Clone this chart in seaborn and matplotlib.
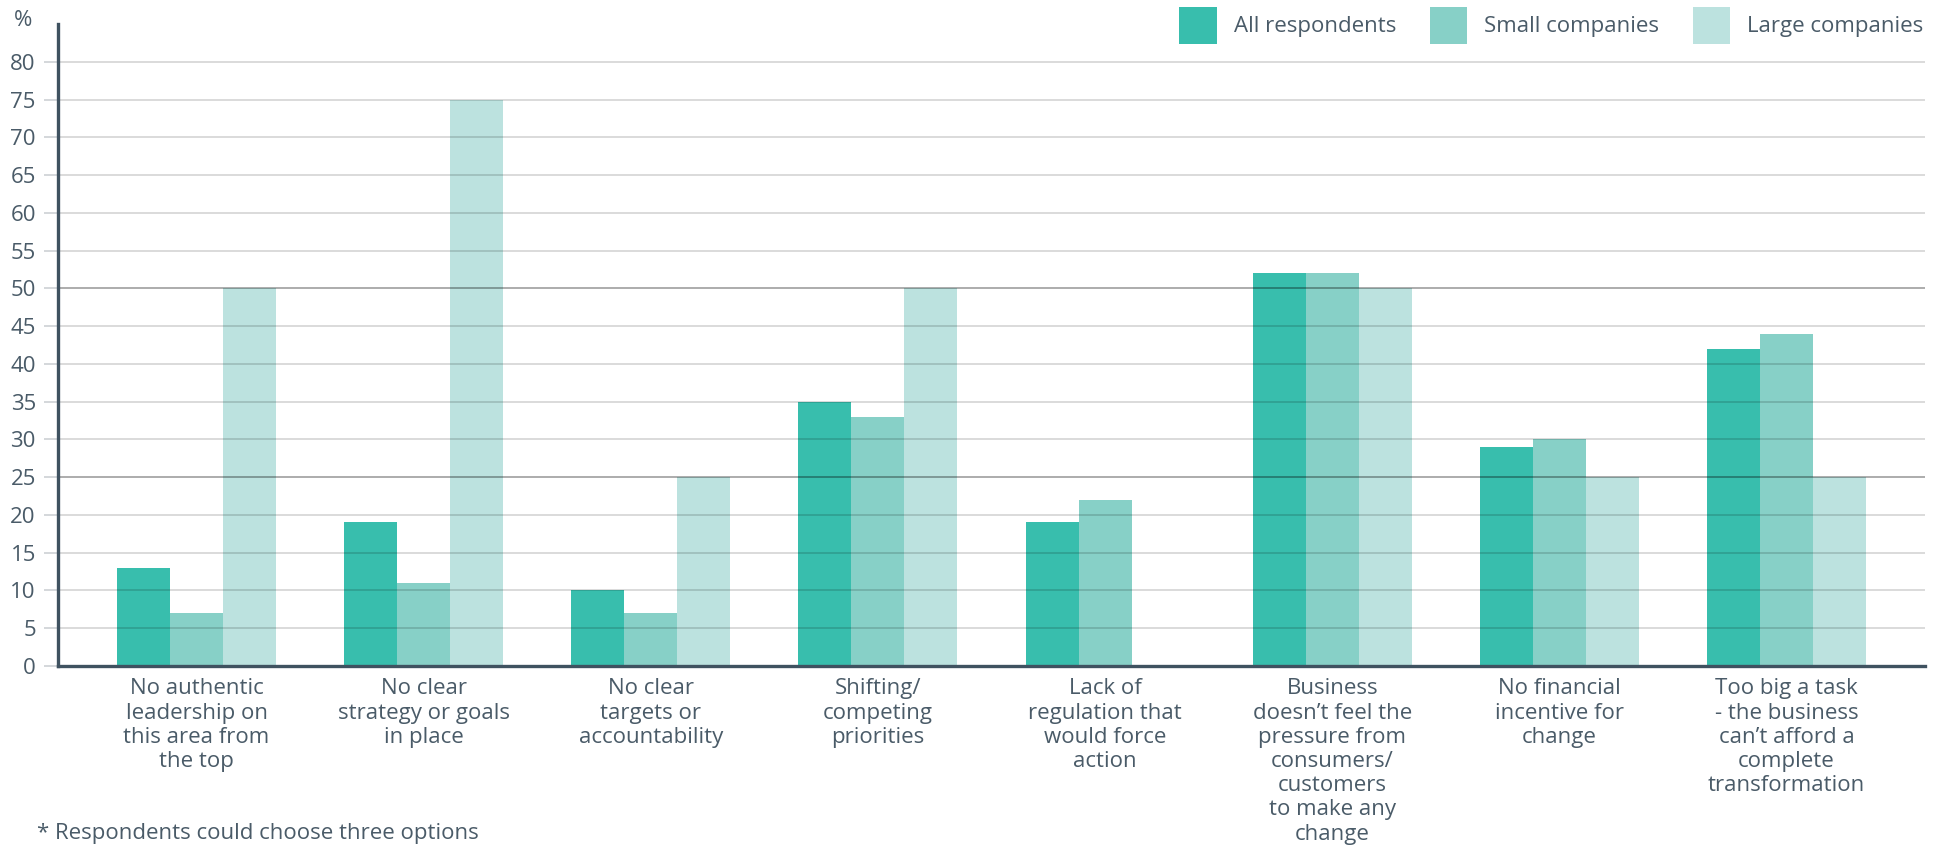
import matplotlib
matplotlib.use("Agg")
import matplotlib.pyplot as plt
import seaborn as sns
import pandas as pd

# Barriers to change, share of respondents (%)
categories = [
    "No authentic\nleadership on\nthis area from\nthe top",
    "No clear\nstrategy or goals\nin place",
    "No clear\ntargets or\naccountability",
    "Shifting/\ncompeting\npriorities",
    "Lack of\nregulation that\nwould force\naction",
    "Business\ndoesn’t feel the\npressure from\nconsumers/\ncustomers\nto make any\nchange",
    "No financial\nincentive for\nchange",
    "Too big a task\n- the business\ncan’t afford a\ncomplete\ntransformation",
]
series_names = ["All respondents", "Small companies", "Large companies"]
all_respondents = [13, 19, 10, 35, 19, 52, 29, 42]
small_companies = [7, 11, 7, 33, 22, 52, 30, 44]
large_companies = [50, 75, 25, 50, 0, 50, 25, 25]
y_ticks = list(range(0, 85, 5))
footnote = "* Respondents could choose three options"

palette = ["#38bead", "#87d0c7", "#bce2df"]
text_color = "#4a5b68"
spine_color = "#3f5260"
fs = 16

df = pd.DataFrame({
    "category": categories * 3,
    "group": [series_names[0]] * 8 + [series_names[1]] * 8 + [series_names[2]] * 8,
    "value": all_respondents + small_companies + large_companies,
})

sns.set_theme(style="white")
plt.rcParams["font.family"] = ["Open Sans", "DejaVu Sans"]
plt.rcParams["text.color"] = text_color

fig = plt.figure(figsize=(19.41, 8.47), dpi=100)
ax = fig.add_axes([0.0299, 0.2137, 0.9619, 0.758])

sns.barplot(
    data=df, x="category", y="value", hue="group",
    hue_order=series_names, order=categories, palette=palette,
    width=0.7, gap=0, saturation=1, linewidth=0, ax=ax, zorder=2,
)

ax.set_xlim(-0.61, 7.61)
ax.set_ylim(0, 85)
ax.set_yticks(y_ticks)
ax.set_yticklabels([str(t) for t in y_ticks])
ax.set_xlabel("")
ax.set_ylabel("")

# Horizontal grid lines drawn over the bars; 25 and 50 emphasised
for t in y_ticks[1:]:
    strong = t in (25, 50)
    ax.axhline(t, color="black", alpha=0.38 if strong else 0.17,
               linewidth=1.2, zorder=3)

for side in ("top", "right"):
    ax.spines[side].set_visible(False)
for side in ("left", "bottom"):
    ax.spines[side].set_color(spine_color)
    ax.spines[side].set_linewidth(2.4)
    ax.spines[side].set_zorder(4)

ax.tick_params(axis="y", length=10, width=1.1, color="#c9cdd1", pad=6,
               labelsize=fs, labelcolor=text_color, left=True)
ax.tick_params(axis="x", length=0, pad=9, labelsize=fs, labelcolor=text_color)
for lbl in ax.get_xticklabels():
    lbl.set_linespacing(1.2)
    lbl.set_va("top")

ax.text(-0.014, 1.005, "%", transform=ax.transAxes, ha="right", va="center",
        fontsize=fs, color=text_color)

sns.move_legend(
    ax, "upper right", bbox_to_anchor=(0.991, 0.992),
    bbox_transform=fig.transFigure, ncol=3, frameon=False, title=None,
    fontsize=fs, handlelength=1.68, handleheight=2.21, handletextpad=0.78,
    columnspacing=1.5, borderaxespad=0, borderpad=0,
)
for txt in ax.get_legend().get_texts():
    txt.set_color(text_color)

fig.text(0.019, 0.004, footnote, ha="left", va="bottom",
         fontsize=fs, color=text_color)

fig.savefig("out.png", dpi=100)
